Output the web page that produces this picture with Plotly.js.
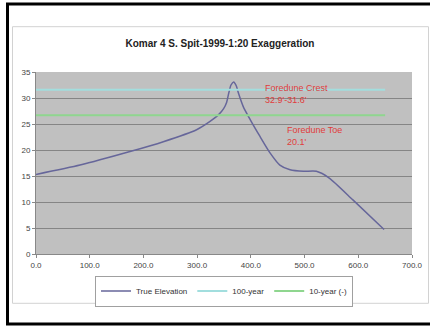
<!DOCTYPE html>
<html>
<head>
<meta charset="utf-8">
<script src="https://cdn.plot.ly/plotly-3.0.1.min.js"></script>
<style>html,body{margin:0;padding:0;background:#fff;}</style>
</head>
<body>
<div id="chart" style="width:430px;height:326px;"></div>
<script>
// Data
const distance = [0, 82, 175, 237, 299, 324, 340, 349, 355, 359, 363, 368, 373, 377, 386, 399, 417, 436, 454, 473, 498, 522, 546, 590, 648];
const trueElevation = [15.3, 17.1, 19.7, 21.6, 23.9, 25.5, 26.8, 27.9, 29.2, 31.0, 32.5, 33.1, 32.3, 30.9, 28.3, 25.8, 22.6, 19.4, 17.1, 16.2, 15.9, 15.9, 14.6, 10.4, 4.7];
const levelX = [0, 650];
const hundredYear = [31.6, 31.6];
const tenYear = [26.7, 26.7];
const seriesNames = ["True Elevation", "100-year", "10-year (-)"];
const xTicks = [0, 100, 200, 300, 400, 500, 600, 700];
const yTicks = [0, 5, 10, 15, 20, 25, 30, 35];
const chartTitle = "Komar 4 S. Spit-1999-1:20 Exaggeration";
const crestNote = ["Foredune Crest", "32.9'-31.6'"];
const toeNote = ["Foredune Toe", "20.1'"];
const crestPos = [422, 30.7];
const toePos = [464, 22.6];

const font = "Arial, 'Liberation Sans', sans-serif";

const traces = [
  {x: distance, y: trueElevation, name: seriesNames[0], type: 'scatter', mode: 'lines',
   line: {color: '#66669a', width: 1.5, shape: 'spline', smoothing: 0.6}},
  {x: levelX, y: hundredYear, name: seriesNames[1], type: 'scatter', mode: 'lines',
   line: {color: '#a2dede', width: 2}},
  {x: levelX, y: tenYear, name: seriesNames[2], type: 'scatter', mode: 'lines',
   line: {color: '#8fd68f', width: 2}}
];

// pixel -> paper helpers (plot area: x 36..412, y 72..254)
const px = v => (v - 36) / 376;
const py = v => (254 - v) / 182;

const layout = {
  width: 430, height: 326,
  margin: {l: 36, r: 18, t: 72, b: 72, pad: 0},
  paper_bgcolor: '#ffffff',
  plot_bgcolor: '#c0c0c0',
  font: {family: font, color: '#444', size: 8},
  title: {text: chartTitle, x: 220/430, xref: 'container', xanchor: 'center',
          y: 1 - 43.3/326, yref: 'container', yanchor: 'middle',
          font: {family: font, size: 10, weight: 'bold', color: '#222'}},
  xaxis: {range: [0, 700], tickvals: xTicks, ticktext: xTicks.map(v => v.toFixed(1)),
          showgrid: false, zeroline: false, showline: true, linecolor: '#888', linewidth: 1,
          ticks: 'outside', ticklen: 3, tickcolor: '#888', tickfont: {size: 8, color: '#444'}},
  yaxis: {range: [0, 35], tickvals: yTicks, showgrid: true, gridcolor: '#858585', gridwidth: 1,
          zeroline: false, showline: true, linecolor: '#888', linewidth: 1,
          ticks: 'outside', ticklen: 3, tickcolor: '#888', tickfont: {size: 8, color: '#444'}},
  showlegend: true,
  legend: {orientation: 'h', x: 0.5, xanchor: 'center', y: py(291), yanchor: 'middle',
           bgcolor: '#ffffff', bordercolor: '#a0a0a0', borderwidth: 1,
           font: {size: 8, color: '#333'}, itemwidth: 30, tracegroupgap: 0},
  annotations: [
    {x: crestPos[0], y: crestPos[1], xref: 'x', yref: 'y', text: crestNote.join('<br>'),
     showarrow: false, xanchor: 'left', yanchor: 'middle', align: 'left',
     font: {family: font, size: 9, color: '#e03c3c'}},
    {x: toePos[0], y: toePos[1], xref: 'x', yref: 'y', text: toeNote.join('<br>'),
     showarrow: false, xanchor: 'left', yanchor: 'middle', align: 'left',
     font: {family: font, size: 9, color: '#e03c3c'}}
  ],
  shapes: [
    {type: 'rect', xref: 'paper', yref: 'paper', x0: px(12.5), x1: px(428.5), y0: py(303.3), y1: py(26.7),
     line: {color: '#d2d2d2', width: 1}, fillcolor: 'rgba(0,0,0,0)', layer: 'below'},
    {type: 'rect', xref: 'paper', yref: 'paper', x0: px(7.5), x1: px(434), y0: py(324), y1: py(4),
     line: {color: '#000000', width: 3}, fillcolor: 'rgba(0,0,0,0)', layer: 'above'}
  ]
};

Plotly.newPlot('chart', traces, layout, {displayModeBar: false, staticPlot: true});
</script>
</body>
</html>
